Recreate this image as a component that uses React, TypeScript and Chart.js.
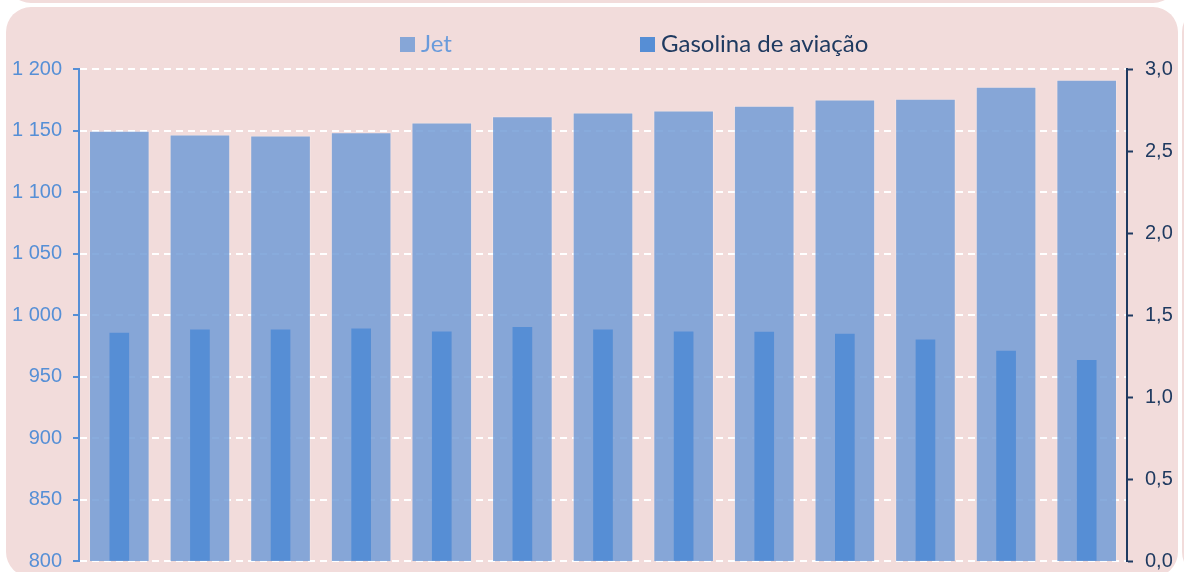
import React, { useEffect, useRef } from "react";
import { Chart, registerables } from "chart.js";

Chart.register(...registerables);

const categories = ["1", "2", "3", "4", "5", "6", "7", "8", "9", "10", "11", "12", "13"];
const jetValues = [1149.5, 1146.5, 1145.7, 1148.4, 1156.2, 1161.4, 1164.4, 1165.9, 1169.9, 1175.0, 1175.6, 1185.4, 1191.0];
const gasolinaValues = [1.39, 1.41, 1.41, 1.415, 1.398, 1.425, 1.409, 1.398, 1.396, 1.384, 1.349, 1.28, 1.224];
const seriesLabels = ["Jet", "Gasolina de aviação"];

const PINK = "#F2DCDB";
const JET = "rgba(115,156,214,0.85)";
const JET_SOLID = "#86A6D7";
const GAS = "#568ED5";
const LEFT_TXT = "#568FD6";
const NAVY = "#1F3A60";

const legendPlugin = {
  id: "customLegend",
  afterDraw(chart: any) {
    const ctx = chart.ctx;
    const items = [
      { x: 400, color: JET_SOLID, text: chart.data.datasets[0].label, textColor: "#6A9BDB" },
      { x: 640, color: GAS, text: chart.data.datasets[1].label, textColor: NAVY },
    ];
    ctx.save();
    ctx.font = "24px Lato";
    ctx.textBaseline = "alphabetic";
    ctx.textAlign = "left";
    for (const it of items) {
      ctx.fillStyle = it.color;
      ctx.fillRect(it.x, 37, 15, 15);
      ctx.fillStyle = it.textColor;
      ctx.fillText(it.text, it.x + 21, 52);
    }
    ctx.restore();
  },
};

function fmtLeft(v: number) {
  if (v >= 1000) {
    const th = Math.floor(v / 1000);
    const rest = String(Math.round(v % 1000)).padStart(3, "0");
    return `${th} ${rest}`;
  }
  return String(v);
}

export default function App() {
  const ref = useRef<HTMLCanvasElement | null>(null);
  useEffect(() => {
    document.body.style.margin = "0";
    const chart = new Chart(ref.current as HTMLCanvasElement, {
      type: "bar",
      data: {
        labels: categories,
        datasets: [
          {
            label: seriesLabels[0],
            data: jetValues,
            backgroundColor: JET,
            borderColor: "rgba(255,255,255,0.2)",
            borderWidth: 1,
            yAxisID: "y",
            barThickness: 60,
            grouped: false,
            order: 2,
          } as any,
          {
            label: seriesLabels[1],
            data: gasolinaValues,
            backgroundColor: GAS,
            borderWidth: 0,
            yAxisID: "y1",
            barThickness: 19,
            grouped: false,
            order: 1,
          } as any,
        ],
      },
      options: {
        responsive: false,
        animation: false,
        devicePixelRatio: 1,
        layout: { padding: { top: 69, bottom: 0, left: 0, right: 0 } },
        plugins: {
          legend: { display: false },
          tooltip: { enabled: false },
        },
        scales: {
          x: {
            display: false,
            offset: true,
            grid: { display: false },
          },
          y: {
            position: "left",
            min: 800,
            max: 1200,
            ticks: {
              stepSize: 50,
              color: LEFT_TXT,
              padding: 11,
              font: { family: "Liberation Sans, Arial", size: 20, lineHeight: 1 },
              callback: (v: any) => fmtLeft(Number(v)),
            },
            grid: {
              color: "#FFFFFF",
              lineWidth: 2,
              tickColor: LEFT_TXT,
              tickLength: 6,
              tickWidth: 2,
              tickBorderDash: [],
            },
            border: { display: true, color: LEFT_TXT, width: 2, dash: [7, 5] },
            afterFit: (s: any) => {
              s.width = 79;
            },
          },
          y1: {
            position: "right",
            min: 0,
            max: 3,
            ticks: {
              stepSize: 0.5,
              color: NAVY,
              padding: 12,
              font: { family: "Liberation Sans, Arial", size: 20, lineHeight: 1 },
              callback: (v: any) => Number(v).toFixed(1).replace(".", ","),
            },
            grid: {
              drawOnChartArea: false,
              tickColor: NAVY,
              tickLength: 6,
              tickWidth: 2,
            },
            border: { display: true, color: NAVY, width: 2 },
            afterFit: (s: any) => {
              s.width = 57;
            },
          },
        },
      } as any,
      plugins: [legendPlugin],
    });
    return () => chart.destroy();
  }, []);

  return (
    <div style={{ position: "fixed", left: 0, top: 0, width: 1184, height: 572, background: "#FFFFFF", overflow: "hidden" }}>
      <div style={{ position: "absolute", left: 6, top: -600, width: 1172, height: 603, borderRadius: 25, background: PINK }} />
      <div style={{ position: "absolute", left: 6, top: 7, width: 1172, height: 570, borderRadius: 25, background: PINK }} />
      <div style={{ position: "absolute", left: 1182, top: 7, width: 200, height: 570, borderRadius: 25, background: PINK }} />
      <canvas ref={ref} width={1184} height={583} style={{ position: "absolute", left: 0, top: 0 }} />
    </div>
  );
}
